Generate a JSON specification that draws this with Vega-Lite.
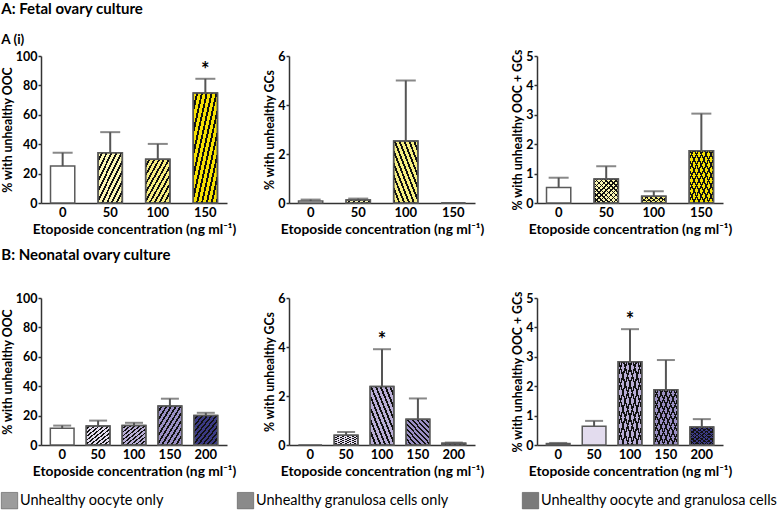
{
  "$schema": "https://vega.github.io/schema/vega-lite/v6.json",
  "background": "white",
  "padding": {"left": 1, "top": 2, "right": 0, "bottom": 0},
  "spacing": 11,
  "resolve": {"scale": {"fill": "independent"}},
  "config": {
    "view": {"stroke": null},
    "font": "Lato",
    "title": {"font": "Lato", "fontSize": 15, "fontWeight": "bold", "color": "#000", "anchor": "start", "frame": "bounds", "subtitleFont": "Lato", "subtitleFontSize": 13.5, "subtitleFontWeight": "bold", "subtitleColor": "#000", "subtitlePadding": 16},
    "axis": {"labelFont": "Lato", "labelFontWeight": "bold", "labelFontSize": 12.5, "labelColor": "#000", "labelOverlap": false, "titleFont": "Lato", "titleFontWeight": "bold", "titleColor": "#000", "domainColor": "#333", "domainWidth": 1.5, "tickColor": "#333", "tickWidth": 1.5, "tickSize": 3, "grid": false, "labelPadding": 1},
    "axisX": {"ticks": false, "labelAngle": 0, "labelPadding": 3, "titlePadding": 3, "titleFontSize": 13.8, "labelFontSize": 13},
    "axisY": {"titlePadding": 1, "titleFontSize": 12.3}
  },
  "datasets": {
    "bars": [
      {"panel": "A1", "conc": "0", "value": 25.1, "upper": 34.2},
      {"panel": "A1", "conc": "50", "value": 34.2, "upper": 48.2},
      {"panel": "A1", "conc": "100", "value": 29.7, "upper": 40.2},
      {"panel": "A1", "conc": "150", "value": 74.9, "upper": 84.5, "sig": true},
      {"panel": "A2", "conc": "0", "value": 0.08, "upper": 0.14},
      {"panel": "A2", "conc": "50", "value": 0.12, "upper": 0.18},
      {"panel": "A2", "conc": "100", "value": 2.53, "upper": 5.0},
      {"panel": "A2", "conc": "150", "value": 0, "upper": 0},
      {"panel": "A3", "conc": "0", "value": 0.53, "upper": 0.86},
      {"panel": "A3", "conc": "50", "value": 0.82, "upper": 1.25},
      {"panel": "A3", "conc": "100", "value": 0.23, "upper": 0.4},
      {"panel": "A3", "conc": "150", "value": 1.78, "upper": 3.04},
      {"panel": "B1", "conc": "0", "value": 11.4, "upper": 13.2},
      {"panel": "B1", "conc": "50", "value": 13.0, "upper": 16.6},
      {"panel": "B1", "conc": "100", "value": 13.2, "upper": 15.1},
      {"panel": "B1", "conc": "150", "value": 26.5, "upper": 31.5},
      {"panel": "B1", "conc": "200", "value": 20.1, "upper": 21.9},
      {"panel": "B2", "conc": "0", "value": 0, "upper": 0},
      {"panel": "B2", "conc": "50", "value": 0.4, "upper": 0.53},
      {"panel": "B2", "conc": "100", "value": 2.39, "upper": 3.91, "sig": true},
      {"panel": "B2", "conc": "150", "value": 1.05, "upper": 1.9},
      {"panel": "B2", "conc": "200", "value": 0.07, "upper": 0.1},
      {"panel": "B3", "conc": "0", "value": 0.05, "upper": 0.07},
      {"panel": "B3", "conc": "50", "value": 0.64, "upper": 0.82},
      {"panel": "B3", "conc": "100", "value": 2.83, "upper": 3.94, "sig": true},
      {"panel": "B3", "conc": "150", "value": 1.88, "upper": 2.89},
      {"panel": "B3", "conc": "200", "value": 0.61, "upper": 0.88}
    ],
    "key": [
      {"type": "Unhealthy oocyte only"},
      {"type": "Unhealthy granulosa cells only"},
      {"type": "Unhealthy oocyte and granulosa cells"}
    ]
  },
  "vconcat": [
    {
      "title": {"text": "A: Fetal ovary culture", "subtitle": "A (i)", "offset": 2},
      "bounds": "flush",
      "spacing": 62,
      "resolve": {"scale": {"fill": "independent"}},
      "hconcat": [
        {
          "width": 186, "height": 147,
          "data": {"name": "bars"},
          "transform": [{"filter": "datum.panel === 'A1'"}],
          "encoding": {"x": {"field": "conc", "type": "ordinal", "sort": null, "scale": {"domain": ["0", "50", "100", "150"], "paddingInner": 0.49, "paddingOuter": 0.2}, "axis": {"title": "Etoposide concentration (ng ml⁻¹)"}}},
          "layer": [
            {"mark": {"type": "bar", "stroke": "#5a5a5a", "strokeWidth": 1.5},
             "encoding": {"y": {"field": "value", "type": "quantitative", "scale": {"domain": [0, 100], "nice": false}, "axis": {"title": "% with unhealthy OOC", "values": [0, 20, 40, 60, 80, 100], "tickCount": 10, "format": "d", "labelOverlap": false}},
               "fill": {"field": "conc", "type": "nominal", "scale": {"domain": ["0", "50", "100", "150"], "range": ["#ffffff", "#fbf7b4", "#f6ee80", "#f5e100"]}, "legend": null}}},
            {"transform": [{"filter": "datum.conc !== '0'"}], "mark": {"type": "bar", "stroke": "#5a5a5a", "strokeWidth": 1.5, "fill": {"gradient": "linear", "x1": 0, "y1": 0, "x2": 1, "y2": 1, "stops": [
              {"offset": 0, "color": "rgba(0,0,0,0)"}, {"offset": 0.06, "color": "rgba(0,0,0,0)"}, {"offset": 0.06, "color": "#111"}, {"offset": 0.1, "color": "#111"},
              {"offset": 0.1, "color": "rgba(0,0,0,0)"}, {"offset": 0.16, "color": "rgba(0,0,0,0)"}, {"offset": 0.16, "color": "#111"}, {"offset": 0.2, "color": "#111"},
              {"offset": 0.2, "color": "rgba(0,0,0,0)"}, {"offset": 0.26, "color": "rgba(0,0,0,0)"}, {"offset": 0.26, "color": "#111"}, {"offset": 0.3, "color": "#111"},
              {"offset": 0.3, "color": "rgba(0,0,0,0)"}, {"offset": 0.36, "color": "rgba(0,0,0,0)"}, {"offset": 0.36, "color": "#111"}, {"offset": 0.4, "color": "#111"},
              {"offset": 0.4, "color": "rgba(0,0,0,0)"}, {"offset": 0.46, "color": "rgba(0,0,0,0)"}, {"offset": 0.46, "color": "#111"}, {"offset": 0.5, "color": "#111"},
              {"offset": 0.5, "color": "rgba(0,0,0,0)"}, {"offset": 0.56, "color": "rgba(0,0,0,0)"}, {"offset": 0.56, "color": "#111"}, {"offset": 0.6, "color": "#111"},
              {"offset": 0.6, "color": "rgba(0,0,0,0)"}, {"offset": 0.66, "color": "rgba(0,0,0,0)"}, {"offset": 0.66, "color": "#111"}, {"offset": 0.7, "color": "#111"},
              {"offset": 0.7, "color": "rgba(0,0,0,0)"}, {"offset": 0.76, "color": "rgba(0,0,0,0)"}, {"offset": 0.76, "color": "#111"}, {"offset": 0.8, "color": "#111"},
              {"offset": 0.8, "color": "rgba(0,0,0,0)"}, {"offset": 0.86, "color": "rgba(0,0,0,0)"}, {"offset": 0.86, "color": "#111"}, {"offset": 0.9, "color": "#111"},
              {"offset": 0.9, "color": "rgba(0,0,0,0)"}, {"offset": 0.96, "color": "rgba(0,0,0,0)"}, {"offset": 0.96, "color": "#111"}, {"offset": 1, "color": "#111"}]}},
             "encoding": {"y": {"field": "value", "type": "quantitative"}}},
            {"transform": [{"filter": "datum.upper > datum.value"}], "mark": {"type": "rule", "color": "#555", "strokeWidth": 2}, "encoding": {"y": {"field": "value", "type": "quantitative"}, "y2": {"field": "upper"}}},
            {"transform": [{"filter": "datum.upper > 0"}], "mark": {"type": "tick", "color": "#555", "thickness": 2, "size": 20}, "encoding": {"y": {"field": "upper", "type": "quantitative"}}},
            {"transform": [{"filter": "datum.sig === true"}], "mark": {"type": "text", "text": "*", "fontSize": 20, "fontWeight": "bold", "dy": -8, "color": "#000"}, "encoding": {"y": {"field": "upper", "type": "quantitative"}}}
          ]
        },
        {
          "width": 186, "height": 147,
          "data": {"name": "bars"},
          "transform": [{"filter": "datum.panel === 'A2'"}],
          "encoding": {"x": {"field": "conc", "type": "ordinal", "sort": null, "scale": {"domain": ["0", "50", "100", "150"], "paddingInner": 0.49, "paddingOuter": 0.2}, "axis": {"title": "Etoposide concentration (ng ml⁻¹)"}}},
          "layer": [
            {"mark": {"type": "bar", "stroke": "#5a5a5a", "strokeWidth": 1.5},
             "encoding": {"y": {"field": "value", "type": "quantitative", "scale": {"domain": [0, 6], "nice": false}, "axis": {"title": "% with unhealthy GCs", "values": [0, 2, 4, 6], "tickCount": 10, "format": "d", "labelOverlap": false}},
               "fill": {"field": "conc", "type": "nominal", "scale": {"domain": ["0", "50", "100", "150"], "range": ["#ffffff", "#fbf7b4", "#f6ee80", "#f5e100"]}, "legend": null}}},
            {"transform": [{"filter": "datum.conc !== '0'"}], "mark": {"type": "bar", "stroke": "#5a5a5a", "strokeWidth": 1.5, "fill": {"gradient": "linear", "x1": 1, "y1": 0, "x2": 0, "y2": 1, "stops": [
              {"offset": 0, "color": "rgba(0,0,0,0)"}, {"offset": 0.06, "color": "rgba(0,0,0,0)"}, {"offset": 0.06, "color": "#111"}, {"offset": 0.1, "color": "#111"},
              {"offset": 0.1, "color": "rgba(0,0,0,0)"}, {"offset": 0.16, "color": "rgba(0,0,0,0)"}, {"offset": 0.16, "color": "#111"}, {"offset": 0.2, "color": "#111"},
              {"offset": 0.2, "color": "rgba(0,0,0,0)"}, {"offset": 0.26, "color": "rgba(0,0,0,0)"}, {"offset": 0.26, "color": "#111"}, {"offset": 0.3, "color": "#111"},
              {"offset": 0.3, "color": "rgba(0,0,0,0)"}, {"offset": 0.36, "color": "rgba(0,0,0,0)"}, {"offset": 0.36, "color": "#111"}, {"offset": 0.4, "color": "#111"},
              {"offset": 0.4, "color": "rgba(0,0,0,0)"}, {"offset": 0.46, "color": "rgba(0,0,0,0)"}, {"offset": 0.46, "color": "#111"}, {"offset": 0.5, "color": "#111"},
              {"offset": 0.5, "color": "rgba(0,0,0,0)"}, {"offset": 0.56, "color": "rgba(0,0,0,0)"}, {"offset": 0.56, "color": "#111"}, {"offset": 0.6, "color": "#111"},
              {"offset": 0.6, "color": "rgba(0,0,0,0)"}, {"offset": 0.66, "color": "rgba(0,0,0,0)"}, {"offset": 0.66, "color": "#111"}, {"offset": 0.7, "color": "#111"},
              {"offset": 0.7, "color": "rgba(0,0,0,0)"}, {"offset": 0.76, "color": "rgba(0,0,0,0)"}, {"offset": 0.76, "color": "#111"}, {"offset": 0.8, "color": "#111"},
              {"offset": 0.8, "color": "rgba(0,0,0,0)"}, {"offset": 0.86, "color": "rgba(0,0,0,0)"}, {"offset": 0.86, "color": "#111"}, {"offset": 0.9, "color": "#111"},
              {"offset": 0.9, "color": "rgba(0,0,0,0)"}, {"offset": 0.96, "color": "rgba(0,0,0,0)"}, {"offset": 0.96, "color": "#111"}, {"offset": 1, "color": "#111"}]}},
             "encoding": {"y": {"field": "value", "type": "quantitative"}}},
            {"transform": [{"filter": "datum.upper > datum.value"}], "mark": {"type": "rule", "color": "#555", "strokeWidth": 2}, "encoding": {"y": {"field": "value", "type": "quantitative"}, "y2": {"field": "upper"}}},
            {"transform": [{"filter": "datum.upper > 0"}], "mark": {"type": "tick", "color": "#555", "thickness": 2, "size": 20}, "encoding": {"y": {"field": "upper", "type": "quantitative"}}}
          ]
        },
        {
          "width": 186, "height": 147,
          "data": {"name": "bars"},
          "transform": [{"filter": "datum.panel === 'A3'"}],
          "encoding": {"x": {"field": "conc", "type": "ordinal", "sort": null, "scale": {"domain": ["0", "50", "100", "150"], "paddingInner": 0.49, "paddingOuter": 0.2}, "axis": {"title": "Etoposide concentration (ng ml⁻¹)"}}},
          "layer": [
            {"mark": {"type": "bar", "stroke": "#5a5a5a", "strokeWidth": 1.5},
             "encoding": {"y": {"field": "value", "type": "quantitative", "scale": {"domain": [0, 5], "nice": false}, "axis": {"title": "% with unhealthy OOC + GCs", "values": [0, 1, 2, 3, 4, 5], "tickCount": 10, "format": "d", "labelOverlap": false}},
               "fill": {"field": "conc", "type": "nominal", "scale": {"domain": ["0", "50", "100", "150"], "range": ["#ffffff", "#fbf7b4", "#f6ee80", "#f5e100"]}, "legend": null}}},
            {"transform": [{"filter": "datum.conc !== '0'"}], "mark": {"type": "bar", "fill": {"gradient": "linear", "x1": 0, "y1": 0, "x2": 1, "y2": 1, "stops": [
              {"offset": 0, "color": "rgba(0,0,0,0)"}, {"offset": 0.07, "color": "rgba(0,0,0,0)"}, {"offset": 0.07, "color": "#111"}, {"offset": 0.1, "color": "#111"},
              {"offset": 0.1, "color": "rgba(0,0,0,0)"}, {"offset": 0.17, "color": "rgba(0,0,0,0)"}, {"offset": 0.17, "color": "#111"}, {"offset": 0.2, "color": "#111"},
              {"offset": 0.2, "color": "rgba(0,0,0,0)"}, {"offset": 0.27, "color": "rgba(0,0,0,0)"}, {"offset": 0.27, "color": "#111"}, {"offset": 0.3, "color": "#111"},
              {"offset": 0.3, "color": "rgba(0,0,0,0)"}, {"offset": 0.37, "color": "rgba(0,0,0,0)"}, {"offset": 0.37, "color": "#111"}, {"offset": 0.4, "color": "#111"},
              {"offset": 0.4, "color": "rgba(0,0,0,0)"}, {"offset": 0.47, "color": "rgba(0,0,0,0)"}, {"offset": 0.47, "color": "#111"}, {"offset": 0.5, "color": "#111"},
              {"offset": 0.5, "color": "rgba(0,0,0,0)"}, {"offset": 0.57, "color": "rgba(0,0,0,0)"}, {"offset": 0.57, "color": "#111"}, {"offset": 0.6, "color": "#111"},
              {"offset": 0.6, "color": "rgba(0,0,0,0)"}, {"offset": 0.67, "color": "rgba(0,0,0,0)"}, {"offset": 0.67, "color": "#111"}, {"offset": 0.7, "color": "#111"},
              {"offset": 0.7, "color": "rgba(0,0,0,0)"}, {"offset": 0.77, "color": "rgba(0,0,0,0)"}, {"offset": 0.77, "color": "#111"}, {"offset": 0.8, "color": "#111"},
              {"offset": 0.8, "color": "rgba(0,0,0,0)"}, {"offset": 0.87, "color": "rgba(0,0,0,0)"}, {"offset": 0.87, "color": "#111"}, {"offset": 0.9, "color": "#111"},
              {"offset": 0.9, "color": "rgba(0,0,0,0)"}, {"offset": 0.97, "color": "rgba(0,0,0,0)"}, {"offset": 0.97, "color": "#111"}, {"offset": 1, "color": "#111"}]}},
             "encoding": {"y": {"field": "value", "type": "quantitative"}}},
            {"transform": [{"filter": "datum.conc !== '0'"}], "mark": {"type": "bar", "stroke": "#5a5a5a", "strokeWidth": 1.5, "fill": {"gradient": "linear", "x1": 1, "y1": 0, "x2": 0, "y2": 1, "stops": [
              {"offset": 0, "color": "rgba(0,0,0,0)"}, {"offset": 0.07, "color": "rgba(0,0,0,0)"}, {"offset": 0.07, "color": "#111"}, {"offset": 0.1, "color": "#111"},
              {"offset": 0.1, "color": "rgba(0,0,0,0)"}, {"offset": 0.17, "color": "rgba(0,0,0,0)"}, {"offset": 0.17, "color": "#111"}, {"offset": 0.2, "color": "#111"},
              {"offset": 0.2, "color": "rgba(0,0,0,0)"}, {"offset": 0.27, "color": "rgba(0,0,0,0)"}, {"offset": 0.27, "color": "#111"}, {"offset": 0.3, "color": "#111"},
              {"offset": 0.3, "color": "rgba(0,0,0,0)"}, {"offset": 0.37, "color": "rgba(0,0,0,0)"}, {"offset": 0.37, "color": "#111"}, {"offset": 0.4, "color": "#111"},
              {"offset": 0.4, "color": "rgba(0,0,0,0)"}, {"offset": 0.47, "color": "rgba(0,0,0,0)"}, {"offset": 0.47, "color": "#111"}, {"offset": 0.5, "color": "#111"},
              {"offset": 0.5, "color": "rgba(0,0,0,0)"}, {"offset": 0.57, "color": "rgba(0,0,0,0)"}, {"offset": 0.57, "color": "#111"}, {"offset": 0.6, "color": "#111"},
              {"offset": 0.6, "color": "rgba(0,0,0,0)"}, {"offset": 0.67, "color": "rgba(0,0,0,0)"}, {"offset": 0.67, "color": "#111"}, {"offset": 0.7, "color": "#111"},
              {"offset": 0.7, "color": "rgba(0,0,0,0)"}, {"offset": 0.77, "color": "rgba(0,0,0,0)"}, {"offset": 0.77, "color": "#111"}, {"offset": 0.8, "color": "#111"},
              {"offset": 0.8, "color": "rgba(0,0,0,0)"}, {"offset": 0.87, "color": "rgba(0,0,0,0)"}, {"offset": 0.87, "color": "#111"}, {"offset": 0.9, "color": "#111"},
              {"offset": 0.9, "color": "rgba(0,0,0,0)"}, {"offset": 0.97, "color": "rgba(0,0,0,0)"}, {"offset": 0.97, "color": "#111"}, {"offset": 1, "color": "#111"}]}},
             "encoding": {"y": {"field": "value", "type": "quantitative"}}},
            {"transform": [{"filter": "datum.upper > datum.value"}], "mark": {"type": "rule", "color": "#555", "strokeWidth": 2}, "encoding": {"y": {"field": "value", "type": "quantitative"}, "y2": {"field": "upper"}}},
            {"transform": [{"filter": "datum.upper > 0"}], "mark": {"type": "tick", "color": "#555", "thickness": 2, "size": 20}, "encoding": {"y": {"field": "upper", "type": "quantitative"}}}
          ]
        }
      ]
    },
    {
      "title": {"text": "B: Neonatal ovary culture", "offset": 28},
      "bounds": "flush",
      "spacing": 62,
      "resolve": {"scale": {"fill": "independent"}},
      "hconcat": [
        {
          "width": 186, "height": 147,
          "data": {"name": "bars"},
          "transform": [{"filter": "datum.panel === 'B1'"}],
          "encoding": {"x": {"field": "conc", "type": "ordinal", "sort": null, "scale": {"domain": ["0", "50", "100", "150", "200"], "paddingInner": 0.34, "paddingOuter": 0.26}, "axis": {"title": "Etoposide concentration (ng ml⁻¹)"}}},
          "layer": [
            {"mark": {"type": "bar", "stroke": "#5a5a5a", "strokeWidth": 1.5},
             "encoding": {"y": {"field": "value", "type": "quantitative", "scale": {"domain": [0, 100], "nice": false}, "axis": {"title": "% with unhealthy OOC", "values": [0, 20, 40, 60, 80, 100], "tickCount": 10, "format": "d", "labelOverlap": false}},
               "fill": {"field": "conc", "type": "nominal", "scale": {"domain": ["0", "50", "100", "150", "200"], "range": ["#ffffff", "#e3dcee", "#b9aed6", "#9a8fc4", "#3b3a84"]}, "legend": null}}},
            {"transform": [{"filter": "datum.conc !== '0'"}], "mark": {"type": "bar", "stroke": "#5a5a5a", "strokeWidth": 1.5, "fill": {"gradient": "linear", "x1": 0, "y1": 0, "x2": 1, "y2": 1, "stops": [
              {"offset": 0, "color": "rgba(0,0,0,0)"}, {"offset": 0.06, "color": "rgba(0,0,0,0)"}, {"offset": 0.06, "color": "#111"}, {"offset": 0.1, "color": "#111"},
              {"offset": 0.1, "color": "rgba(0,0,0,0)"}, {"offset": 0.16, "color": "rgba(0,0,0,0)"}, {"offset": 0.16, "color": "#111"}, {"offset": 0.2, "color": "#111"},
              {"offset": 0.2, "color": "rgba(0,0,0,0)"}, {"offset": 0.26, "color": "rgba(0,0,0,0)"}, {"offset": 0.26, "color": "#111"}, {"offset": 0.3, "color": "#111"},
              {"offset": 0.3, "color": "rgba(0,0,0,0)"}, {"offset": 0.36, "color": "rgba(0,0,0,0)"}, {"offset": 0.36, "color": "#111"}, {"offset": 0.4, "color": "#111"},
              {"offset": 0.4, "color": "rgba(0,0,0,0)"}, {"offset": 0.46, "color": "rgba(0,0,0,0)"}, {"offset": 0.46, "color": "#111"}, {"offset": 0.5, "color": "#111"},
              {"offset": 0.5, "color": "rgba(0,0,0,0)"}, {"offset": 0.56, "color": "rgba(0,0,0,0)"}, {"offset": 0.56, "color": "#111"}, {"offset": 0.6, "color": "#111"},
              {"offset": 0.6, "color": "rgba(0,0,0,0)"}, {"offset": 0.66, "color": "rgba(0,0,0,0)"}, {"offset": 0.66, "color": "#111"}, {"offset": 0.7, "color": "#111"},
              {"offset": 0.7, "color": "rgba(0,0,0,0)"}, {"offset": 0.76, "color": "rgba(0,0,0,0)"}, {"offset": 0.76, "color": "#111"}, {"offset": 0.8, "color": "#111"},
              {"offset": 0.8, "color": "rgba(0,0,0,0)"}, {"offset": 0.86, "color": "rgba(0,0,0,0)"}, {"offset": 0.86, "color": "#111"}, {"offset": 0.9, "color": "#111"},
              {"offset": 0.9, "color": "rgba(0,0,0,0)"}, {"offset": 0.96, "color": "rgba(0,0,0,0)"}, {"offset": 0.96, "color": "#111"}, {"offset": 1, "color": "#111"}]}},
             "encoding": {"y": {"field": "value", "type": "quantitative"}}},
            {"transform": [{"filter": "datum.upper > datum.value"}], "mark": {"type": "rule", "color": "#555", "strokeWidth": 2}, "encoding": {"y": {"field": "value", "type": "quantitative"}, "y2": {"field": "upper"}}},
            {"transform": [{"filter": "datum.upper > 0"}], "mark": {"type": "tick", "color": "#555", "thickness": 2, "size": 18}, "encoding": {"y": {"field": "upper", "type": "quantitative"}}}
          ]
        },
        {
          "width": 186, "height": 147,
          "data": {"name": "bars"},
          "transform": [{"filter": "datum.panel === 'B2'"}],
          "encoding": {"x": {"field": "conc", "type": "ordinal", "sort": null, "scale": {"domain": ["0", "50", "100", "150", "200"], "paddingInner": 0.34, "paddingOuter": 0.26}, "axis": {"title": "Etoposide concentration (ng ml⁻¹)"}}},
          "layer": [
            {"mark": {"type": "bar", "stroke": "#5a5a5a", "strokeWidth": 1.5},
             "encoding": {"y": {"field": "value", "type": "quantitative", "scale": {"domain": [0, 6], "nice": false}, "axis": {"title": "% with unhealthy GCs", "values": [0, 2, 4, 6], "tickCount": 10, "format": "d", "labelOverlap": false}},
               "fill": {"field": "conc", "type": "nominal", "scale": {"domain": ["0", "50", "100", "150", "200"], "range": ["#ffffff", "#e3dcee", "#b9aed6", "#9a8fc4", "#3b3a84"]}, "legend": null}}},
            {"transform": [{"filter": "datum.conc !== '0'"}], "mark": {"type": "bar", "stroke": "#5a5a5a", "strokeWidth": 1.5, "fill": {"gradient": "linear", "x1": 1, "y1": 0, "x2": 0, "y2": 1, "stops": [
              {"offset": 0, "color": "rgba(0,0,0,0)"}, {"offset": 0.06, "color": "rgba(0,0,0,0)"}, {"offset": 0.06, "color": "#111"}, {"offset": 0.1, "color": "#111"},
              {"offset": 0.1, "color": "rgba(0,0,0,0)"}, {"offset": 0.16, "color": "rgba(0,0,0,0)"}, {"offset": 0.16, "color": "#111"}, {"offset": 0.2, "color": "#111"},
              {"offset": 0.2, "color": "rgba(0,0,0,0)"}, {"offset": 0.26, "color": "rgba(0,0,0,0)"}, {"offset": 0.26, "color": "#111"}, {"offset": 0.3, "color": "#111"},
              {"offset": 0.3, "color": "rgba(0,0,0,0)"}, {"offset": 0.36, "color": "rgba(0,0,0,0)"}, {"offset": 0.36, "color": "#111"}, {"offset": 0.4, "color": "#111"},
              {"offset": 0.4, "color": "rgba(0,0,0,0)"}, {"offset": 0.46, "color": "rgba(0,0,0,0)"}, {"offset": 0.46, "color": "#111"}, {"offset": 0.5, "color": "#111"},
              {"offset": 0.5, "color": "rgba(0,0,0,0)"}, {"offset": 0.56, "color": "rgba(0,0,0,0)"}, {"offset": 0.56, "color": "#111"}, {"offset": 0.6, "color": "#111"},
              {"offset": 0.6, "color": "rgba(0,0,0,0)"}, {"offset": 0.66, "color": "rgba(0,0,0,0)"}, {"offset": 0.66, "color": "#111"}, {"offset": 0.7, "color": "#111"},
              {"offset": 0.7, "color": "rgba(0,0,0,0)"}, {"offset": 0.76, "color": "rgba(0,0,0,0)"}, {"offset": 0.76, "color": "#111"}, {"offset": 0.8, "color": "#111"},
              {"offset": 0.8, "color": "rgba(0,0,0,0)"}, {"offset": 0.86, "color": "rgba(0,0,0,0)"}, {"offset": 0.86, "color": "#111"}, {"offset": 0.9, "color": "#111"},
              {"offset": 0.9, "color": "rgba(0,0,0,0)"}, {"offset": 0.96, "color": "rgba(0,0,0,0)"}, {"offset": 0.96, "color": "#111"}, {"offset": 1, "color": "#111"}]}},
             "encoding": {"y": {"field": "value", "type": "quantitative"}}},
            {"transform": [{"filter": "datum.upper > datum.value"}], "mark": {"type": "rule", "color": "#555", "strokeWidth": 2}, "encoding": {"y": {"field": "value", "type": "quantitative"}, "y2": {"field": "upper"}}},
            {"transform": [{"filter": "datum.upper > 0"}], "mark": {"type": "tick", "color": "#555", "thickness": 2, "size": 18}, "encoding": {"y": {"field": "upper", "type": "quantitative"}}},
            {"transform": [{"filter": "datum.sig === true"}], "mark": {"type": "text", "text": "*", "fontSize": 20, "fontWeight": "bold", "dy": -8, "color": "#000"}, "encoding": {"y": {"field": "upper", "type": "quantitative"}}}
          ]
        },
        {
          "width": 186, "height": 147,
          "data": {"name": "bars"},
          "transform": [{"filter": "datum.panel === 'B3'"}],
          "encoding": {"x": {"field": "conc", "type": "ordinal", "sort": null, "scale": {"domain": ["0", "50", "100", "150", "200"], "paddingInner": 0.34, "paddingOuter": 0.26}, "axis": {"title": "Etoposide concentration (ng ml⁻¹)"}}},
          "layer": [
            {"mark": {"type": "bar", "stroke": "#5a5a5a", "strokeWidth": 1.5},
             "encoding": {"y": {"field": "value", "type": "quantitative", "scale": {"domain": [0, 5], "nice": false}, "axis": {"title": "% with unhealthy OOC + GCs", "values": [0, 1, 2, 3, 4, 5], "tickCount": 10, "format": "d", "labelOverlap": false}},
               "fill": {"field": "conc", "type": "nominal", "scale": {"domain": ["0", "50", "100", "150", "200"], "range": ["#ffffff", "#e3dcee", "#b9aed6", "#9a8fc4", "#3b3a84"]}, "legend": null}}},
            {"transform": [{"filter": "datum.conc !== '0' && datum.conc !== '50'"}], "mark": {"type": "bar", "fill": {"gradient": "linear", "x1": 0, "y1": 0, "x2": 1, "y2": 1, "stops": [
              {"offset": 0, "color": "rgba(0,0,0,0)"}, {"offset": 0.07, "color": "rgba(0,0,0,0)"}, {"offset": 0.07, "color": "#111"}, {"offset": 0.1, "color": "#111"},
              {"offset": 0.1, "color": "rgba(0,0,0,0)"}, {"offset": 0.17, "color": "rgba(0,0,0,0)"}, {"offset": 0.17, "color": "#111"}, {"offset": 0.2, "color": "#111"},
              {"offset": 0.2, "color": "rgba(0,0,0,0)"}, {"offset": 0.27, "color": "rgba(0,0,0,0)"}, {"offset": 0.27, "color": "#111"}, {"offset": 0.3, "color": "#111"},
              {"offset": 0.3, "color": "rgba(0,0,0,0)"}, {"offset": 0.37, "color": "rgba(0,0,0,0)"}, {"offset": 0.37, "color": "#111"}, {"offset": 0.4, "color": "#111"},
              {"offset": 0.4, "color": "rgba(0,0,0,0)"}, {"offset": 0.47, "color": "rgba(0,0,0,0)"}, {"offset": 0.47, "color": "#111"}, {"offset": 0.5, "color": "#111"},
              {"offset": 0.5, "color": "rgba(0,0,0,0)"}, {"offset": 0.57, "color": "rgba(0,0,0,0)"}, {"offset": 0.57, "color": "#111"}, {"offset": 0.6, "color": "#111"},
              {"offset": 0.6, "color": "rgba(0,0,0,0)"}, {"offset": 0.67, "color": "rgba(0,0,0,0)"}, {"offset": 0.67, "color": "#111"}, {"offset": 0.7, "color": "#111"},
              {"offset": 0.7, "color": "rgba(0,0,0,0)"}, {"offset": 0.77, "color": "rgba(0,0,0,0)"}, {"offset": 0.77, "color": "#111"}, {"offset": 0.8, "color": "#111"},
              {"offset": 0.8, "color": "rgba(0,0,0,0)"}, {"offset": 0.87, "color": "rgba(0,0,0,0)"}, {"offset": 0.87, "color": "#111"}, {"offset": 0.9, "color": "#111"},
              {"offset": 0.9, "color": "rgba(0,0,0,0)"}, {"offset": 0.97, "color": "rgba(0,0,0,0)"}, {"offset": 0.97, "color": "#111"}, {"offset": 1, "color": "#111"}]}},
             "encoding": {"y": {"field": "value", "type": "quantitative"}}},
            {"transform": [{"filter": "datum.conc !== '0' && datum.conc !== '50'"}], "mark": {"type": "bar", "stroke": "#5a5a5a", "strokeWidth": 1.5, "fill": {"gradient": "linear", "x1": 1, "y1": 0, "x2": 0, "y2": 1, "stops": [
              {"offset": 0, "color": "rgba(0,0,0,0)"}, {"offset": 0.07, "color": "rgba(0,0,0,0)"}, {"offset": 0.07, "color": "#111"}, {"offset": 0.1, "color": "#111"},
              {"offset": 0.1, "color": "rgba(0,0,0,0)"}, {"offset": 0.17, "color": "rgba(0,0,0,0)"}, {"offset": 0.17, "color": "#111"}, {"offset": 0.2, "color": "#111"},
              {"offset": 0.2, "color": "rgba(0,0,0,0)"}, {"offset": 0.27, "color": "rgba(0,0,0,0)"}, {"offset": 0.27, "color": "#111"}, {"offset": 0.3, "color": "#111"},
              {"offset": 0.3, "color": "rgba(0,0,0,0)"}, {"offset": 0.37, "color": "rgba(0,0,0,0)"}, {"offset": 0.37, "color": "#111"}, {"offset": 0.4, "color": "#111"},
              {"offset": 0.4, "color": "rgba(0,0,0,0)"}, {"offset": 0.47, "color": "rgba(0,0,0,0)"}, {"offset": 0.47, "color": "#111"}, {"offset": 0.5, "color": "#111"},
              {"offset": 0.5, "color": "rgba(0,0,0,0)"}, {"offset": 0.57, "color": "rgba(0,0,0,0)"}, {"offset": 0.57, "color": "#111"}, {"offset": 0.6, "color": "#111"},
              {"offset": 0.6, "color": "rgba(0,0,0,0)"}, {"offset": 0.67, "color": "rgba(0,0,0,0)"}, {"offset": 0.67, "color": "#111"}, {"offset": 0.7, "color": "#111"},
              {"offset": 0.7, "color": "rgba(0,0,0,0)"}, {"offset": 0.77, "color": "rgba(0,0,0,0)"}, {"offset": 0.77, "color": "#111"}, {"offset": 0.8, "color": "#111"},
              {"offset": 0.8, "color": "rgba(0,0,0,0)"}, {"offset": 0.87, "color": "rgba(0,0,0,0)"}, {"offset": 0.87, "color": "#111"}, {"offset": 0.9, "color": "#111"},
              {"offset": 0.9, "color": "rgba(0,0,0,0)"}, {"offset": 0.97, "color": "rgba(0,0,0,0)"}, {"offset": 0.97, "color": "#111"}, {"offset": 1, "color": "#111"}]}},
             "encoding": {"y": {"field": "value", "type": "quantitative"}}},
            {"transform": [{"filter": "datum.upper > datum.value"}], "mark": {"type": "rule", "color": "#555", "strokeWidth": 2}, "encoding": {"y": {"field": "value", "type": "quantitative"}, "y2": {"field": "upper"}}},
            {"transform": [{"filter": "datum.upper > 0"}], "mark": {"type": "tick", "color": "#555", "thickness": 2, "size": 18}, "encoding": {"y": {"field": "upper", "type": "quantitative"}}},
            {"transform": [{"filter": "datum.sig === true"}], "mark": {"type": "text", "text": "*", "fontSize": 20, "fontWeight": "bold", "dy": -8, "color": "#000"}, "encoding": {"y": {"field": "upper", "type": "quantitative"}}}
          ]
        }
      ]
    },
    {
      "width": 740, "height": 1,
      "data": {"name": "key"},
      "mark": {"type": "square", "opacity": 0},
      "encoding": {
        "fill": {"field": "type", "type": "nominal", "sort": null,
          "scale": {"domain": ["Unhealthy oocyte only", "Unhealthy granulosa cells only", "Unhealthy oocyte and granulosa cells"],
            "range": ["#9c9c9c", "#8a8a8a", "#7a7a7a"]},
          "legend": {"orient": "none", "legendX": -40, "legendY": 0, "direction": "horizontal", "columns": 3, "columnPadding": 72, "title": null, "symbolType": "square", "symbolSize": 270, "symbolOpacity": 1, "symbolStrokeColor": "#444", "symbolStrokeWidth": 0.5, "labelFont": "Lato", "labelFontSize": 14.5, "labelFontWeight": "normal", "labelColor": "#000", "labelLimit": 400, "labelOffset": 2, "padding": 0}}
      }
    }
  ]
}
